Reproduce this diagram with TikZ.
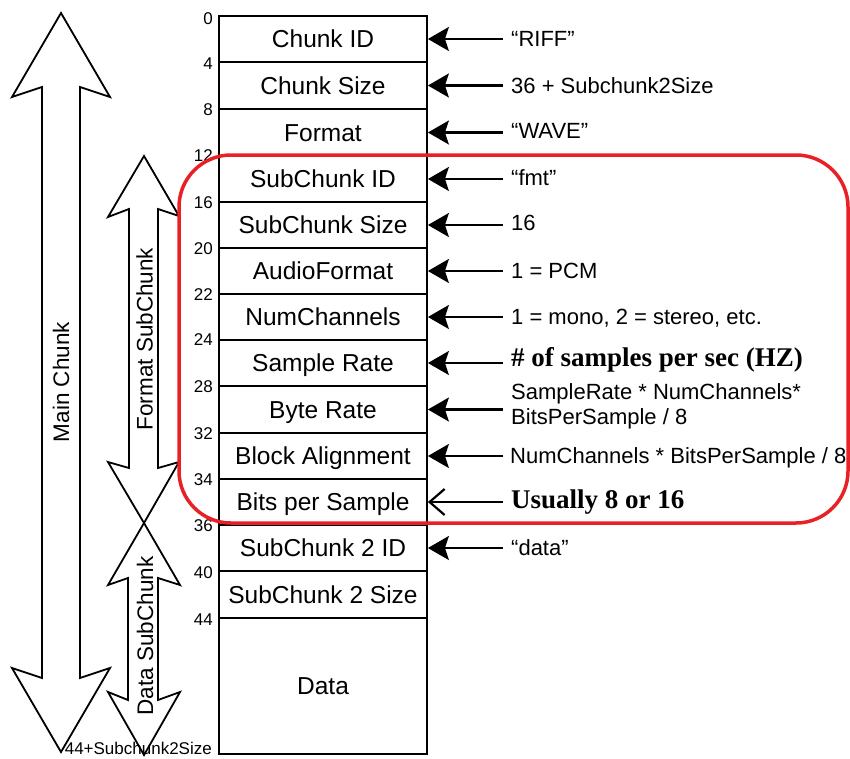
\documentclass[tikz,border=0pt]{standalone}
\usepackage{fontspec}
\setmainfont{Liberation Sans}
\newfontfamily\tnr{Liberation Serif}
\usetikzlibrary{arrows.meta}
\definecolor{boxred}{RGB}{232,33,39}
\tikzset{
  rowbox/.style={draw, line width=1.8pt, minimum width=208pt, inner sep=0pt,
    text height=17.5pt, text depth=0pt, font=\fontsize{24.5}{29}\selectfont},
  offs/.style={anchor=east, inner sep=0pt, text height=12.2pt, text depth=0pt,
    font=\fontsize{17}{20}\selectfont},
  rlab/.style={anchor=west, inner sep=0pt, text height=15.8pt, text depth=0pt,
    font=\fontsize{22}{25}\selectfont},
  rlabtwo/.style={anchor=west, inner sep=0pt, align=left,
    font=\fontsize{22}{25}\selectfont},
  blab/.style={anchor=west, inner sep=0pt, text height=17.9pt, text depth=0pt,
    font=\fontsize{27}{30}\selectfont\tnr\bfseries},
  ptr/.style={line width=2.2pt, -{Stealth[length=21pt,width=24pt,inset=4pt]}},
  optr/.style={line width=2.2pt, -{Straight Barb[length=15pt,width=26pt]}},
  bigarrow/.style={draw, line width=1.8pt, line join=miter, fill=white},
  vlab/.style={rotate=90, inner sep=0pt, text height=16pt, text depth=0pt,
    font=\fontsize{22.5}{26}\selectfont},
  redbox/.style={draw=boxred, line width=3.5pt, rounded corners=52pt},
}
\begin{document}
\begin{tikzpicture}[x=1pt, y=-1pt]
\useasboundingbox (0,0) rectangle (850,758);

% big double arrows
\path[bigarrow] (61,13) -- (110,97) -- (80,87) -- (80,678) -- (110,668) -- (61,752)
  -- (12,668) -- (42,678) -- (42,87) -- (12,97) -- cycle;
\path[bigarrow] (144,156) -- (179,216) -- (158,209) -- (158,468) -- (179,462) -- (144,523)
  -- (108,462) -- (129,468) -- (129,209) -- (108,217) -- cycle;
\path[bigarrow] (144,523) -- (180,585) -- (158,578) -- (158,700) -- (180,692) -- (144,755)
  -- (108,692) -- (128,700) -- (128,578) -- (108,585) -- cycle;
\node[vlab] (lmain) at (61,382) {Main Chunk};
\node[vlab] (lfmt) at (144.5,339) {Format SubChunk};
\node[vlab] (ldata) at (145,636) {Data SubChunk};

% rows
\node[rowbox, minimum height=46pt] (r1) at (323,39) {Chunk ID};
\node[rowbox, minimum height=47pt] (r2) at (323,85.5) {Chunk Size};
\node[rowbox, minimum height=47pt] (r3) at (323,132.5) {Format};
\node[rowbox, minimum height=46pt] (r4) at (323,179) {SubChunk ID};
\node[rowbox, minimum height=46pt] (r5) at (323,225) {SubChunk Size};
\node[rowbox, minimum height=46pt] (r6) at (323,271) {AudioFormat};
\node[rowbox, minimum height=46pt] (r7) at (323,317) {NumChannels};
\node[rowbox, minimum height=46pt] (r8) at (323,363) {Sample Rate};
\node[rowbox, minimum height=47pt] (r9) at (323,409.5) {Byte Rate};
\node[rowbox, minimum height=46pt] (r10) at (323,456) {Block Alignment};
\node[rowbox, minimum height=46pt] (r11) at (323,502) {Bits per Sample};
\node[rowbox, minimum height=46pt] (r12) at (323,548) {SubChunk 2 ID};
\node[rowbox, minimum height=47pt] (r13) at (323,594.5) {SubChunk 2 Size};
\node[rowbox, minimum height=136pt] (r14) at (323,686) {Data};

% offsets
\node[offs] (o0) at (213,18) {0};
\node[offs] (o4) at (213,63) {4};
\node[offs] (o8) at (213,109) {8};
\node[offs] (o12) at (213,155) {12};
\node[offs] (o16) at (213,202) {16};
\node[offs] (o20) at (213,248) {20};
\node[offs] (o22) at (213,294) {22};
\node[offs] (o24) at (213,339) {24};
\node[offs] (o28) at (213,386) {28};
\node[offs] (o32) at (213,433) {32};
\node[offs] (o34) at (213,479) {34};
\node[offs] (o36) at (213,525) {36};
\node[offs] (o40) at (213,572) {40};
\node[offs] (o44) at (213,619) {44};
\node[offs] (oend) at (212,748) {44+Subchunk2Size};

% right-hand labels
\node[rlab] (t1) at (511,39) {“RIFF”};
\node[rlab] (t2) at (511,85.5) {36 + Subchunk2Size};
\node[rlab] (t3) at (511,131) {“WAVE”};
\node[rlab] (t4) at (511,178) {“fmt”};
\node[rlab] (t5) at (511,223) {16};
\node[rlab] (t6) at (511,271) {1 = PCM};
\node[rlab] (t7) at (511,317) {1 = mono, 2 = stereo, etc.};
\node[blab] (t8) at (511,358) {\# of samples per sec (HZ)};
\node[rlabtwo] (t9) at (511,406) {SampleRate * NumChannels*\\BitsPerSample / 8};
\node[rlab] (t10) at (510,456) {NumChannels * BitsPerSample / 8};
\node[blab] (t11) at (511,500) {Usually 8 or 16};
\node[rlab] (t12) at (511,548) {“data”};

\draw[ptr] ([xshift=-8pt]t1.west |- r1.east) -- (r1.east);
\draw[ptr] ([xshift=-8pt]t2.west |- r2.east) -- (r2.east);
\draw[ptr] ([xshift=-8pt]t3.west |- r3.east) -- (r3.east);
\draw[ptr] ([xshift=-8pt]t4.west |- r4.east) -- (r4.east);
\draw[ptr] ([xshift=-8pt]t5.west |- r5.east) -- (r5.east);
\draw[ptr] ([xshift=-8pt]t6.west |- r6.east) -- (r6.east);
\draw[ptr] ([xshift=-8pt]t7.west |- r7.east) -- (r7.east);
\draw[ptr] ([xshift=-8pt]t8.west |- r8.east) -- (r8.east);
\draw[ptr] ([xshift=-8pt]t9.west |- r9.east) -- (r9.east);
\draw[ptr] ([xshift=-7pt]t10.west |- r10.east) -- (r10.east);
\draw[optr] ([xshift=-8pt]t11.west |- r11.east) -- (r11.east);
\draw[ptr] ([xshift=-8pt]t12.west |- r12.east) -- (r12.east);

% red highlight
\draw[redbox] (179,155) rectangle (848,523);
\end{tikzpicture}
\end{document}
